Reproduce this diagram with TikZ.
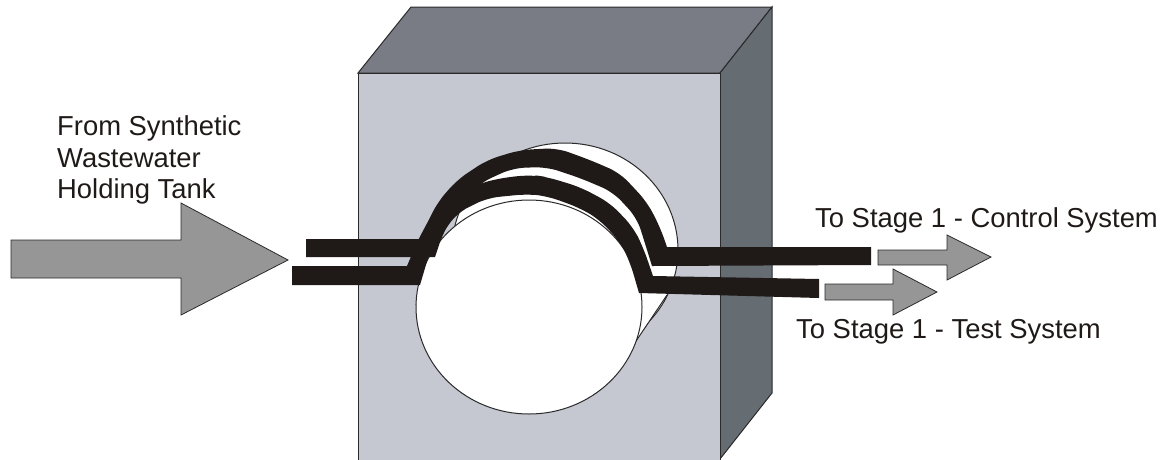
\documentclass[tikz,border=0pt]{standalone}
\usepackage{fontspec}
\setmainfont{Liberation Sans}
\definecolor{frontc}{HTML}{C5C8D1}
\definecolor{topc}{HTML}{797C84}
\definecolor{sidec}{HTML}{656C72}
\definecolor{tubec}{HTML}{1F1A17}
\definecolor{arrowc}{HTML}{969696}
\definecolor{edgec}{HTML}{2A2A2A}
\tikzset{
  facefill/.style={draw=edgec,line width=1pt,line join=miter},
  tube/.style={fill=tubec,draw=none},
  flow/.style={fill=arrowc,draw=edgec,line width=0.8pt,line join=miter},
  port/.style={fill=white,draw=edgec,line width=1pt},
  lab/.style={font=\fontsize{27.4}{32}\selectfont,anchor=base west,inner sep=0pt,text=tubec}
}
\begin{document}
\begin{tikzpicture}[x=1pt,y=-1pt]
\useasboundingbox (0,0) rectangle (1162,459);
% block
\begin{scope}
\clip (0,0) rectangle (1162,459);
\draw[facefill,fill=topc] (358,73) -- (411,7) -- (772,7) -- (720,73) -- cycle;
\draw[facefill,fill=sidec] (720,73) -- (772,7) -- (772,393) -- (720,459) -- cycle;
\draw[facefill,fill=frontc] (358,73) rectangle (720,465);
% bore
\draw[port] (565,250) ellipse [x radius=113,y radius=107];
\fill[white] (667,295) -- (628,353) -- (529,307) -- (470,210) -- (565,250) -- cycle;
\fill[white] (452,250) -- (416,307) -- (529,307) -- (565,250) -- cycle;
\draw[edgec,line width=1pt] (667,295) -- (628,353);
\draw[edgec,line width=1pt] (452,250) -- (416,305);
\draw[port] (529,307) ellipse [x radius=113,y radius=107];
\end{scope}
% tubes
\fill[tube] (306,239) -- (420,239) [rounded corners=12pt] -- (437,203) -- (457,180) -- (487,160) -- (520,150) -- (557,148) -- (590,160) -- (620,173) -- (647,202) -- (660,227) [sharp corners] -- (667,247) -- (871,247) -- (871,265) -- (652,266) [rounded corners=12pt] -- (643,237) -- (637,218) -- (613,192) -- (580,178) -- (547,167) -- (513,168) -- (480,183) -- (460,205) -- (443,233) [sharp corners] -- (435,257) -- (306,257) -- cycle;
\fill[tube] (292,266) -- (407,266) [rounded corners=12pt] -- (418,240) -- (437,205) -- (480,183) -- (507,177) -- (533,175) -- (547,177) -- (580,187) -- (610,203) -- (633,227) -- (643,247) [sharp corners] -- (653,276) -- (819,279) -- (819,298) -- (639,293) [rounded corners=12pt] -- (630,262) -- (620,242) -- (600,220) -- (580,208) -- (547,196) -- (527,194) -- (487,198) -- (457,213) -- (440,237) [sharp corners] -- (428,258) -- (420,285) -- (292,285) -- cycle;
% arrows
\draw[flow] (11,240) -- (181,240) -- (181,203) -- (288,260) -- (181,315) -- (181,278) -- (11,278) -- cycle;
\draw[flow] (878,250) -- (947,250) -- (947,235) -- (991,257) -- (947,280) -- (947,265) -- (878,265) -- cycle;
\draw[flow] (825,284) -- (893,284) -- (893,269) -- (937,292) -- (893,315) -- (893,300) -- (825,300) -- cycle;
% labels
\node[lab] (src1) at (57,135) {From Synthetic};
\node[lab] (src2) at (57,167) {Wastewater};
\node[lab] (src3) at (57,198) {Holding Tank};
\node[lab] (ctl) at (815,227) {To Stage 1 - Control System};
\node[lab] (tst) at (796,338) {To Stage 1 - Test System};
\end{tikzpicture}
\end{document}
